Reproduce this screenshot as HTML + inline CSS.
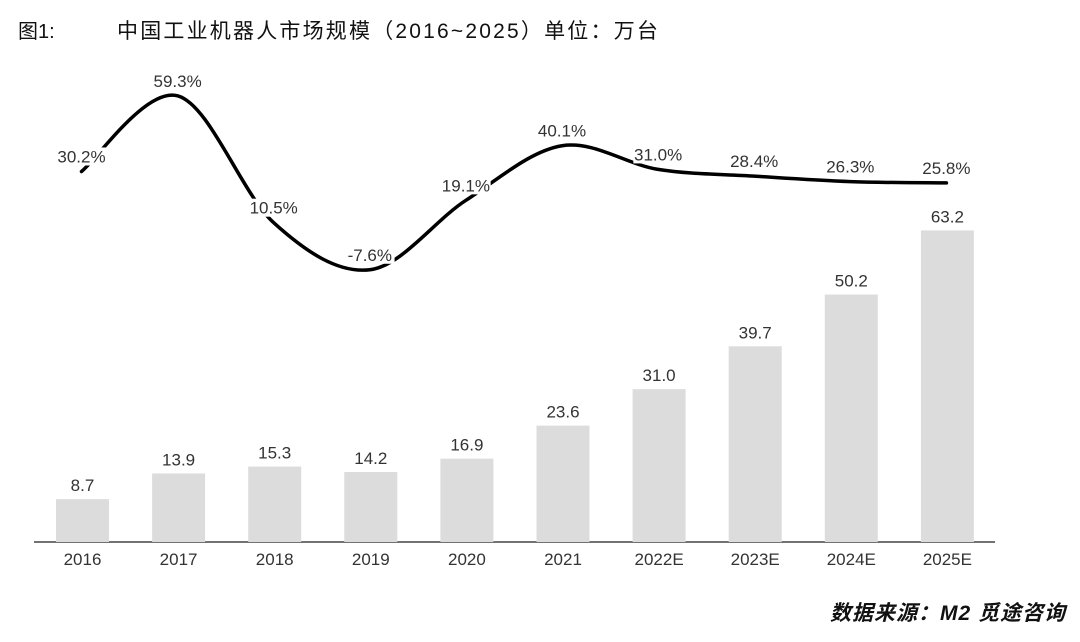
<!DOCTYPE html>
<html><head><meta charset="utf-8"><style>
html,body{margin:0;padding:0;background:#fff;width:1080px;height:642px;overflow:hidden}
svg{display:block}
text{font-family:"Liberation Sans","Noto Sans CJK SC",sans-serif}
</style></head><body>
<svg id="chart" width="1080" height="642" viewBox="0 0 1080 642">
<text x="18" y="38" font-size="20" fill="#111" font-family="'Liberation Serif','Noto Serif CJK SC',serif">图1:</text>
<text x="117" y="38" font-size="21" letter-spacing="2.2" fill="#111" font-family="'Liberation Serif','Noto Serif CJK SC',serif">中国工业机器人市场规模（2016~2025）单位：万台</text>
<line x1="34" y1="542" x2="995" y2="542" stroke="#444" stroke-width="1.5"/>
<g id="bars"></g>
<g id="line"></g>
<g id="labels"></g>
<text x="1066" y="620" text-anchor="end" font-size="21" font-style="italic" font-weight="bold" letter-spacing="1" fill="#111" font-family="'Liberation Serif','Noto Serif CJK SC',serif">数据来源：M2 觅途咨询</text>
</svg>
<script>
const categories=["2016","2017","2018","2019","2020","2021","2022E","2023E","2024E","2025E"];
const salesValues=[8.7,13.9,15.3,14.2,16.9,23.6,31.0,39.7,50.2,63.2];
const growthValues=[30.2,59.3,10.5,-7.6,19.1,40.1,31.0,28.4,26.3,25.8];
const NS="http://www.w3.org/2000/svg";
const xPos=i=>82.5+i*96.1;
const yBar=v=>542-v*4.93;
const yLine=v=>250-v*2.6;
function mk(tag,attrs,parent){const e=document.createElementNS(NS,tag);for(const k in attrs)e.setAttribute(k,attrs[k]);parent.appendChild(e);return e;}
const gb=document.getElementById('bars'),gl=document.getElementById('line'),gt=document.getElementById('labels');
categories.forEach((c,i)=>{
  const x=xPos(i),v=salesValues[i];
  const r=mk('rect',{x:x-26.5,y:yBar(v),width:53,height:542-yBar(v),fill:'#dcdcdc'},gb);
  
  
  const t=mk('text',{x:x,y:yBar(v)-8,'text-anchor':'middle','font-size':17,fill:'#333'},gb);
  t.textContent=v.toFixed(1);
  
  
  const xl=mk('text',{x:x,y:565,'text-anchor':'middle','font-size':17,fill:'#333'},gb);
  xl.textContent=c;
  
  
});
const pts=growthValues.map((v,i)=>[xPos(i)-1,yLine(v)]);
let d='M'+pts[0][0]+','+pts[0][1];
for(let i=0;i<pts.length-1;i++){
  const p0=pts[i-1]||pts[i],p1=pts[i],p2=pts[i+1],p3=pts[i+2]||p2;
  const k=6;
  d+=' C'+(p1[0]+(p2[0]-p0[0])/k)+','+(p1[1]+(p2[1]-p0[1])/k)+' '+(p2[0]-(p3[0]-p1[0])/k)+','+(p2[1]-(p3[1]-p1[1])/k)+' '+p2[0]+','+p2[1];
}
const path=mk('path',{d:d,fill:'none',stroke:'#000','stroke-width':3.5,'stroke-linecap':'round'},gl);


growthValues.forEach((v,i)=>{
  const x=xPos(i)-1,y=yLine(v)-15;
  const s=v.toFixed(1)+'%';
  const w=s.length*9.5;
  const bg=mk('rect',{x:x-w/2-1,y:y-9,width:w+2,height:18,fill:'#fff'},gt);
  
  
  const t=mk('text',{x:x,y:y+6,'text-anchor':'middle','font-size':17,fill:'#333'},gt);
  t.textContent=s;
  
  
});
</script>
</body></html>
